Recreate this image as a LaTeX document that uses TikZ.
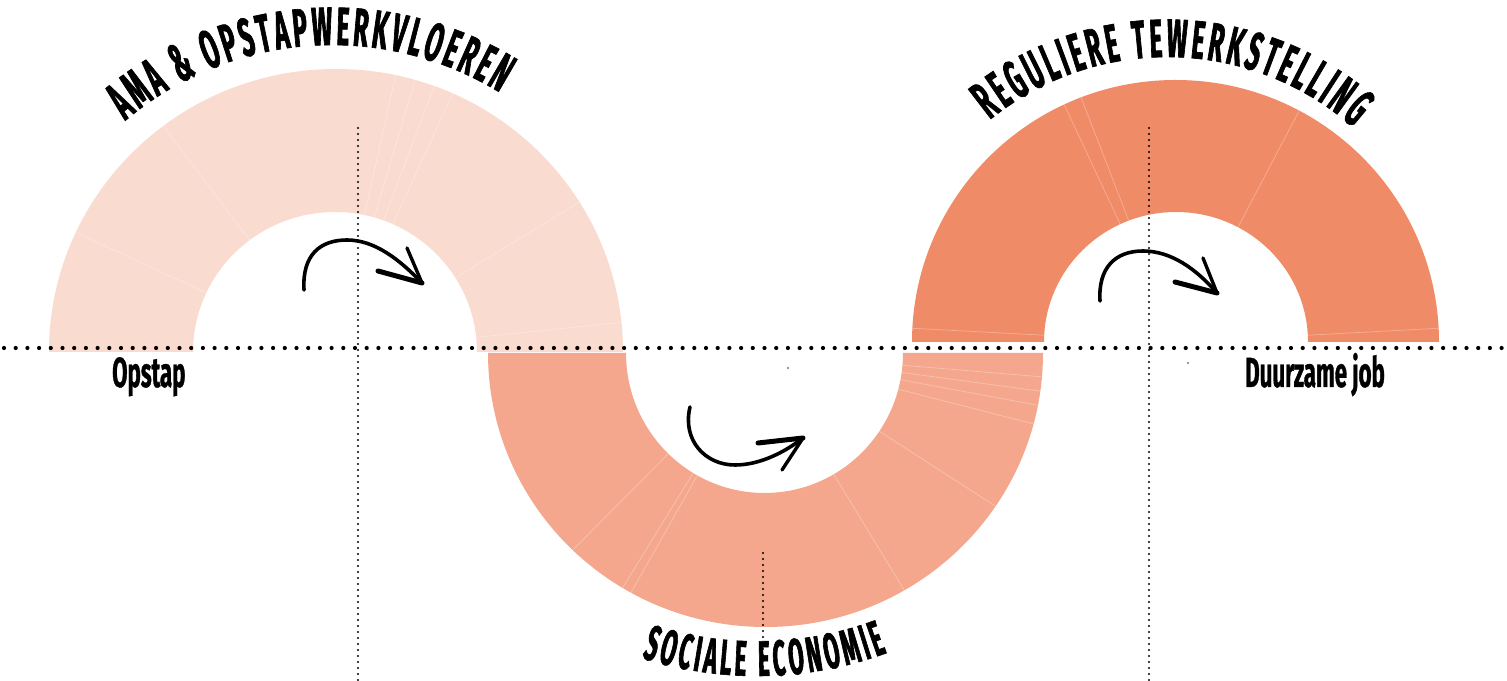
\documentclass[tikz,border=0pt]{standalone}
\usepackage{fontspec}
\newfontfamily\condfont[FakeStretch=0.53,FakeBold=0.8]{Fira Sans}
\newfontfamily\titlefont[FakeStretch=0.45,FakeBold=1.2]{Fira Sans}
\usetikzlibrary{decorations.text}
\definecolor{arcA}{RGB}{250,219,208}
\definecolor{arcB}{RGB}{244,167,140}
\definecolor{arcC}{RGB}{240,139,103}
\definecolor{speck}{RGB}{120,120,120}
\tikzset{
  seam/.style={draw=white, opacity=0.28, line width=0.8pt},
  hdots/.style={line width=4.2pt, line cap=round, dash pattern=on 0pt off 11.7pt},
  vdots/.style={line width=2.4pt, line cap=round, dash pattern=on 0pt off 6pt},
  handarrow/.style={line width=3.6pt, line cap=round, line join=round},
  headthick/.style={line width=5pt, line cap=round},
  headthin/.style={line width=3.4pt, line cap=round},
  lbl/.style={font=\condfont\bfseries\fontsize{42}{42}\selectfont, inner sep=0pt},
}
\begin{document}
\begin{tikzpicture}[x=1pt,y=1pt]
\useasboundingbox (0,0) rectangle (1507,680);
\fill[white] (0,0) rectangle (1507,680);

% half rings
\fill[arcA] (49,328) arc[start angle=180,end angle=0,x radius=287pt,y radius=283pt]
  -- (477,328) arc[start angle=0,end angle=180,x radius=142pt,y radius=140pt] -- cycle;
\fill[arcB] (488,327) arc[start angle=180,end angle=360,x radius=277.5pt,y radius=274pt]
  -- (903,327) arc[start angle=0,end angle=-180,x radius=138.5pt,y radius=140pt] -- cycle;
\fill[arcC] (912,338) arc[start angle=180,end angle=0,x radius=263.5pt,y radius=262pt]
  -- (1308,338) arc[start angle=0,end angle=180,x radius=132pt,y radius=130pt] -- cycle;

% faint seams
\foreach \a in {6,32,66,70,74,78,127,155}
  \draw[seam] ([shift={(335,328)}]\a:142pt and 140pt) -- ([shift={(336,328)}]\a:287pt and 283pt);
\foreach \a in {226,239,241,300,326,345,349,352,355}
  \draw[seam] ([shift={(764.5,327)}]\a:138.5pt and 140pt) -- ([shift={(765.5,327)}]\a:277.5pt and 274pt);
\foreach \a in {3,62,111,115,177}
  \draw[seam] ([shift={(1176,338)}]\a:132pt and 130pt) -- ([shift={(1175.5,338)}]\a:263.5pt and 262pt);

% curved titles
\path[decorate, decoration={text along path, text align=fit to path,
  text={|\titlefont\bfseries\fontsize{54}{54}\selectfont|AMA {\&} OPSTAPWERKVLOEREN}}]
  ([shift={(332,315)}]130.2:320pt) arc[start angle=130.2,end angle=58.4,radius=320pt];
\path[decorate, decoration={text along path, text align=fit to path,
  text={|\titlefont\bfseries\fontsize{54}{54}\selectfont|REGULIERE TEWERKSTELLING}}]
  ([shift={(1167,342)}]129.1:281pt) arc[start angle=129.1,end angle=48.6,radius=281pt];
\path[decorate, decoration={text along path, text align=fit to path,
  text={|\titlefont\bfseries\fontsize{50}{50}\selectfont|SOCIALE ECONOMIE}}]
  ([shift={(757,381)}]252.2:377pt) arc[start angle=252.2,end angle=290.2,radius=377pt];

% straight labels
\node[lbl, anchor=base west] (opstap) at (112,293) {Opstap};
\node[lbl, anchor=base west] (duurzaam) at (1245,293) {Duurzame job};

% hand-drawn arrows
\coordinate (a1s) at (304,390); \coordinate (a1m) at (347,440); \coordinate (a1t) at (422,397);
\coordinate (a1h) at (378,409); \coordinate (a1k) at (407,432);
\draw[handarrow] (a1s) .. controls (302,425) and (320,440) .. (a1m)
  .. controls (375,440) and (400,420) .. (a1t);
\draw[headthick] (a1h) -- (a1t); \draw[headthin] (a1k) -- (a1t);

\coordinate (a2s) at (690,273); \coordinate (a2m) at (735,215); \coordinate (a2t) at (803,242);
\coordinate (a2h) at (758,237); \coordinate (a2k) at (782,210);
\draw[handarrow] (a2s) .. controls (682,240) and (705,215) .. (a2m)
  .. controls (760,215) and (785,228) .. (a2t);
\draw[headthick] (a2h) -- (a2t); \draw[headthin] (a2k) -- (a2t);

\coordinate (a3s) at (1100,379); \coordinate (a3m) at (1143,429); \coordinate (a3t) at (1217,387);
\coordinate (a3h) at (1175,398); \coordinate (a3k) at (1203,422);
\draw[handarrow] (a3s) .. controls (1098,412) and (1115,429) .. (a3m)
  .. controls (1172,429) and (1197,410) .. (a3t);
\draw[headthick] (a3h) -- (a3t); \draw[headthin] (a3k) -- (a3t);

% specks
\fill[speck] (788,312) circle (1.2pt);
\fill[speck] (1188,317) circle (1.2pt);

% dotted guide lines
\coordinate (hL) at (4,332); \coordinate (hR) at (1507,332);
\draw[hdots] (hL) -- (hR);
\coordinate (v1t) at (358,552); \coordinate (v1b) at (358,0);
\coordinate (v2t) at (763,127); \coordinate (v2b) at (763,8);
\coordinate (v3t) at (1149,552); \coordinate (v3b) at (1149,0);
\draw[vdots] (v1t) -- (v1b);
\draw[vdots] (v2t) -- (v2b);
\draw[vdots] (v3t) -- (v3b);
\end{tikzpicture}
\end{document}
